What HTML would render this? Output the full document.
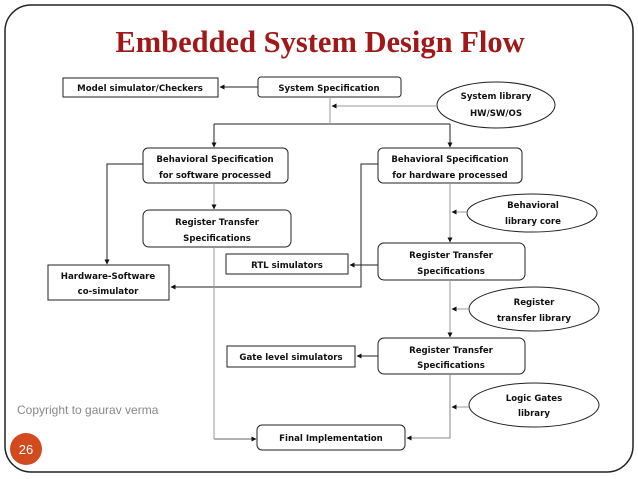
<!DOCTYPE html>
<html><head><meta charset="utf-8"><style>
html,body{margin:0;padding:0;background:#fff;width:638px;height:479px;overflow:hidden}
svg text{font-family:"DejaVu Sans","Liberation Sans",sans-serif;font-weight:bold;font-size:8.6px;fill:#111}
</style></head><body>
<svg width="638" height="479" viewBox="0 0 638 479" xmlns="http://www.w3.org/2000/svg">
<defs>
<marker id="a" viewBox="0 0 10 10" refX="9" refY="5" markerWidth="5" markerHeight="5" orient="auto"><path d="M0,0L10,5L0,10z" fill="#111"/></marker>
</defs>
<rect x="5" y="5" width="628" height="467" rx="26" fill="none" stroke="#222" stroke-width="1.5"/>
<text x="320" y="52" text-anchor="middle" style="font-family:'Liberation Serif',serif;font-size:30.5px;fill:#a01818;font-weight:bold">Embedded System Design Flow</text>

<g fill="#fff" stroke="#222" stroke-width="1">
<rect x="63" y="78" width="155" height="19"/>
<rect x="258" y="77" width="143" height="20" rx="3"/>
<ellipse cx="496" cy="105" rx="59" ry="23"/>
<rect x="143" y="148" width="145" height="35" rx="5"/>
<rect x="378" y="148" width="144" height="35" rx="5"/>
<rect x="143" y="210" width="148" height="37" rx="6"/>
<ellipse cx="532" cy="213" rx="65" ry="19"/>
<rect x="378" y="243" width="147" height="37" rx="6"/>
<rect x="226" y="254" width="122" height="20"/>
<rect x="48" y="265" width="121" height="35"/>
<ellipse cx="534" cy="309" rx="65" ry="22"/>
<rect x="378" y="338" width="147" height="36" rx="6"/>
<rect x="227" y="346" width="128" height="21"/>
<ellipse cx="534" cy="405" rx="65" ry="22"/>
<rect x="257" y="425" width="148" height="25" rx="5"/>
</g>

<g fill="none" stroke="#222" stroke-width="1">
<path d="M258 87H220" marker-end="url(#a)"/>
<path d="M214 124H450M214 124V147" marker-end="url(#a)"/>
<path d="M450 124V147" marker-end="url(#a)"/>
<path d="M143 164H107V264" marker-end="url(#a)"/>
<path d="M378 164H361V287H171" marker-end="url(#a)"/>
<path d="M378 265H350" marker-end="url(#a)"/>
<path d="M378 356H357" marker-end="url(#a)"/>
<path d="M214 439H256" marker-end="url(#a)" stroke="#666"/>
<path d="M450 374V438H407" marker-end="url(#a)" stroke="#888"/>
</g>
<g fill="none" stroke="#999" stroke-width="1">
<path d="M330 97V124"/>
<path d="M437 106H332" marker-end="url(#a)"/>
<path d="M214 183V209" marker-end="url(#a)"/>
<path d="M214 247V439"/>
<path d="M450 183V242" marker-end="url(#a)"/>
<path d="M467 212H452" marker-end="url(#a)"/>
<path d="M450 280V337" marker-end="url(#a)"/>
<path d="M469 309H452" marker-end="url(#a)"/>
<path d="M469 407H452" marker-end="url(#a)"/>
</g>

<g text-anchor="middle">
<text x="140" y="91">Model simulator/Checkers</text>
<text x="329" y="91">System Specification</text>
<text x="496" y="99">System library</text>
<text x="496" y="116">HW/SW/OS</text>
<text x="215" y="162">Behavioral Specification</text>
<text x="215" y="178">for software processed</text>
<text x="450" y="162">Behavioral Specification</text>
<text x="450" y="178">for hardware processed</text>
<text x="217" y="225">Register Transfer</text>
<text x="217" y="241">Specifications</text>
<text x="533" y="208">Behavioral</text>
<text x="533" y="224">library core</text>
<text x="451" y="258">Register Transfer</text>
<text x="451" y="274">Specifications</text>
<text x="287" y="268">RTL simulators</text>
<text x="108" y="279">Hardware-Software</text>
<text x="108" y="294">co-simulator</text>
<text x="534" y="305">Register</text>
<text x="534" y="321">transfer library</text>
<text x="451" y="353">Register Transfer</text>
<text x="451" y="368">Specifications</text>
<text x="291" y="360">Gate level simulators</text>
<text x="534" y="401">Logic Gates</text>
<text x="534" y="416">library</text>
<text x="331" y="441">Final Implementation</text>
</g>
<text x="17" y="414" style="font-family:'Liberation Sans',sans-serif;font-weight:normal;font-size:12px;fill:#888">Copyright to gaurav verma</text>
<ellipse cx="26" cy="449" rx="16" ry="16" fill="#d14b1f"/>
<text x="26" y="454" text-anchor="middle" style="font-family:'Liberation Sans',sans-serif;font-weight:normal;font-size:13px;fill:#fff">26</text>
</svg>
</body></html>
